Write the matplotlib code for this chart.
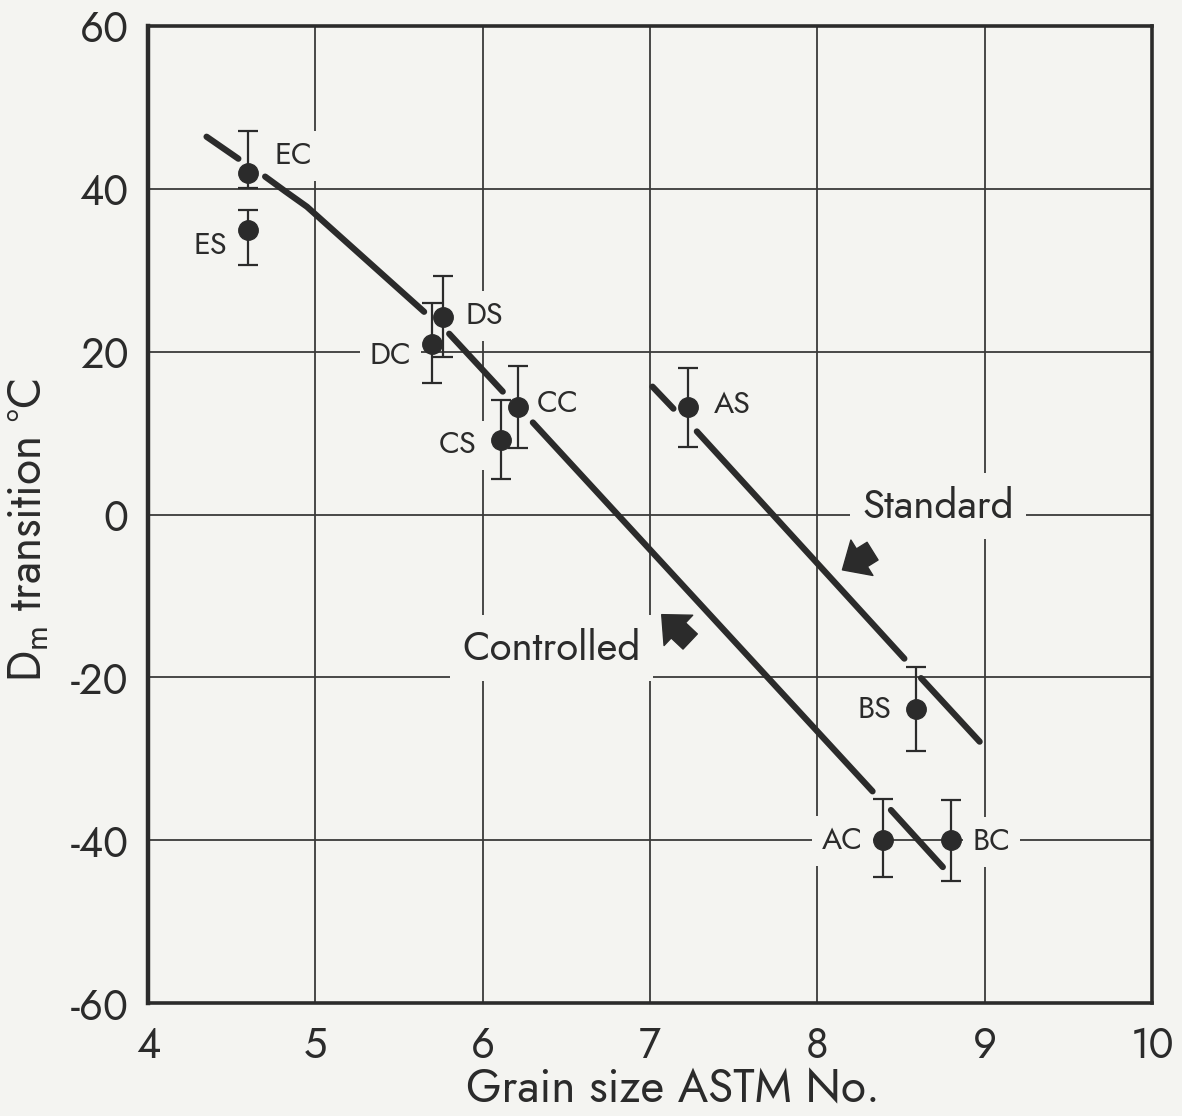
import matplotlib
matplotlib.use("Agg")
import matplotlib.pyplot as plt

# ---------------- data ----------------
point_labels = ['EC', 'ES', 'DS', 'DC', 'CC', 'CS', 'AS', 'BS', 'AC', 'BC']
grain_size = [4.60, 4.60, 5.76, 5.70, 6.21, 6.11, 7.23, 8.59, 8.39, 8.80]
transition = [42.0, 35.0, 24.2, 20.9, 13.2, 9.1, 13.2, -23.9, -40.0, -40.0]
err_low = [1.9, 4.4, 4.8, 4.8, 5.0, 4.7, 4.9, 5.1, 4.5, 5.0]
err_high = [5.1, 2.4, 5.1, 5.1, 5.0, 5.0, 4.8, 5.2, 5.0, 4.9]

label_x = [4.87, 4.37, 6.01, 5.45, 6.45, 5.85, 7.49, 8.34, 8.15, 9.04]
label_y = [44.0, 33.0, 24.4, 19.5, 13.6, 8.5, 13.4, -24.0, -40.1, -40.2]

# Controlled curve (drawn in pieces, broken at the points)
controlled_segments_x = [[4.35, 4.54],
                         [4.70, 4.82, 4.95, 5.65],
                         [5.80, 6.12],
                         [6.30, 8.33],
                         [8.44, 8.75]]
controlled_segments_y = [[46.4, 43.7],
                         [41.5, 39.7, 37.8, 24.9],
                         [22.2, 15.1],
                         [11.3, -34.0],
                         [-36.3, -43.3]]
# Standard line
standard_segments_x = [[7.015, 7.14], [7.28, 8.52], [8.62, 8.97]]
standard_segments_y = [[15.7, 13.0], [10.2, -17.7], [-20.1, -27.9]]

curve_names = ['Standard', 'Controlled']
curve_label_x = [8.72, 6.41]
curve_label_y = [1.0, -16.4]
arrow_tail = [(8.33, -4.5), (7.24, -15.6)]
arrow_head = [(8.15, -6.8), (7.07, -12.3)]

x_ticks = [4, 5, 6, 7, 8, 9, 10]
x_tick_labels = ['4', '5', '6', '7', '8', '9', '10']
y_ticks = [-60, -40, -20, 0, 20, 40, 60]

# ---------------- style ----------------
BG = '#f4f4f1'
INK = '#2b2b2b'
plt.rcParams['font.family'] = ['Jost', 'Open Sans', 'DejaVu Sans']
plt.rcParams['font.weight'] = 300
plt.rcParams['axes.unicode_minus'] = False

fig = plt.figure(figsize=(11.82, 11.16), dpi=100, facecolor=BG)
ax = fig.add_axes([148/1182, 1 - 1003/1116, (1152-148)/1182, (1003-26)/1116])
ax.set_facecolor(BG)
ax.set_xlim(4, 10)
ax.set_ylim(-60, 60)
ax.set_xticks(x_ticks)
ax.set_xticklabels(x_tick_labels)
ax.set_yticks(y_ticks)
ax.tick_params(length=0, labelsize=30, colors=INK)
ax.tick_params(axis='x', pad=16)
ax.tick_params(axis='y', pad=14)
ax.set_axisbelow(True)
ax.grid(True, color='#3a3a3a', linewidth=1.3)
for sp in ax.spines.values():
    sp.set_linewidth(2.6)
    sp.set_color(INK)
ax.spines['left'].set_linewidth(3.2)

# curves
for xs, ys in zip(controlled_segments_x, controlled_segments_y):
    ax.plot(xs, ys, color=INK, linewidth=4.5, solid_capstyle='round',
            solid_joinstyle='round', zorder=4)
for xs, ys in zip(standard_segments_x, standard_segments_y):
    ax.plot(xs, ys, color=INK, linewidth=4.5, solid_capstyle='round', zorder=4)

# points with error bars
ax.errorbar(grain_size, transition, yerr=[err_low, err_high], fmt='o',
            color=INK, markersize=14, elinewidth=1.6, capsize=7, capthick=1.6,
            zorder=5)

bbox = dict(facecolor=BG, edgecolor='none', pad=7)
for lab, lx, ly in zip(point_labels, label_x, label_y):
    ax.text(lx, ly, lab, fontsize=22, color=INK, ha='center', va='center',
            bbox=bbox, zorder=3)

for name, cx, cy in zip(curve_names, curve_label_x, curve_label_y):
    ax.text(cx, cy, name, fontsize=29, color=INK, ha='center', va='center',
            bbox=dict(facecolor=BG, edgecolor='none', pad=9), zorder=3)

for tail, head in zip(arrow_tail, arrow_head):
    ax.annotate('', xy=head, xytext=tail,
                arrowprops=dict(arrowstyle='simple,head_length=0.55,head_width=1.0,tail_width=0.5',
                                mutation_scale=30, fc=INK, ec=INK,
                                shrinkA=0, shrinkB=0), zorder=4)

fig.text(673/1182, 1 - 1089/1116, 'Grain size ASTM No.', fontsize=33,
         color=INK, ha='center', va='center')
fig.text(28/1182, 1 - 530/1116, r'D$_\mathregular{m}$ transition °C', fontsize=33,
         color=INK, ha='center', va='center', rotation=90)

fig.savefig('out.png', dpi=100, facecolor=BG)
